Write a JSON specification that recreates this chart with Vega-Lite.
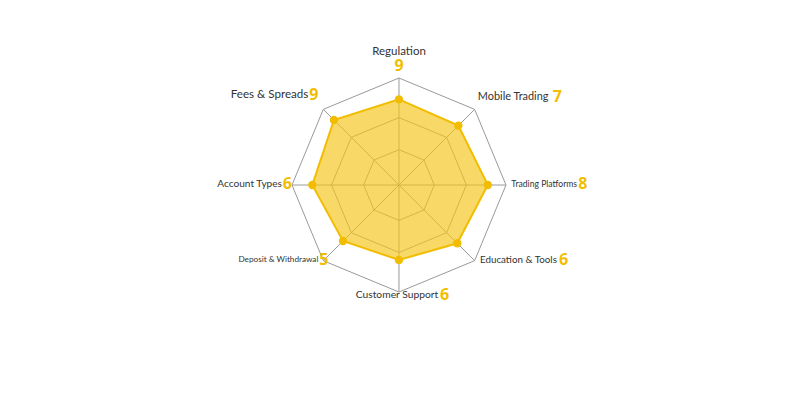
{
  "$schema": "https://vega.github.io/schema/vega-lite/v6.json",
  "width": 800,
  "height": 400,
  "padding": 0,
  "autosize": {"type": "none"},
  "background": "white",
  "config": {"view": {"stroke": null}, "font": "Lato", "text": {"font": "Lato"}},
  "datasets": {
    "axes": [
      {"i": 0, "name": "Regulation", "score": 9, "r": 8.0},
      {"i": 1, "name": "Mobile Trading", "score": 7, "r": 7.85},
      {"i": 2, "name": "Trading Platforms", "score": 8, "r": 8.3},
      {"i": 3, "name": "Education & Tools", "score": 6, "r": 7.7},
      {"i": 4, "name": "Customer Support", "score": 6, "r": 7.0},
      {"i": 5, "name": "Deposit & Withdrawal", "score": 5, "r": 7.4},
      {"i": 6, "name": "Account Types", "score": 6, "r": 8.1},
      {"i": 7, "name": "Fees & Spreads", "score": 9, "r": 8.6}
    ],
    "grid": [
      {"level": 3.3, "i": 0}, {"level": 3.3, "i": 1}, {"level": 3.3, "i": 2}, {"level": 3.3, "i": 3},
      {"level": 3.3, "i": 4}, {"level": 3.3, "i": 5}, {"level": 3.3, "i": 6}, {"level": 3.3, "i": 7},
      {"level": 6.3, "i": 0}, {"level": 6.3, "i": 1}, {"level": 6.3, "i": 2}, {"level": 6.3, "i": 3},
      {"level": 6.3, "i": 4}, {"level": 6.3, "i": 5}, {"level": 6.3, "i": 6}, {"level": 6.3, "i": 7},
      {"level": 10, "i": 0}, {"level": 10, "i": 1}, {"level": 10, "i": 2}, {"level": 10, "i": 3},
      {"level": 10, "i": 4}, {"level": 10, "i": 5}, {"level": 10, "i": 6}, {"level": 10, "i": 7}
    ]
  },
  "encoding": {
    "x": {"field": "x", "type": "quantitative", "scale": {"domain": [-37.29, 37.48], "zero": false, "nice": false}, "axis": null},
    "y": {"field": "y", "type": "quantitative", "scale": {"domain": [-20.09, 17.29], "zero": false, "nice": false}, "axis": null}
  },
  "layer": [
    {
      "data": {"name": "grid"},
      "transform": [
        {"calculate": "datum.i * PI / 4", "as": "a"},
        {"calculate": "datum.level * sin(datum.a)", "as": "x"},
        {"calculate": "datum.level * cos(datum.a)", "as": "y"}
      ],
      "mark": {"type": "line", "interpolate": "linear-closed", "stroke": "#9a9a9a", "strokeWidth": 1},
      "encoding": {"detail": {"field": "level"}, "order": {"field": "i"}}
    },
    {
      "data": {"name": "axes"},
      "transform": [
        {"calculate": "datum.i * PI / 4", "as": "a"},
        {"calculate": "10 * sin(datum.a)", "as": "x"},
        {"calculate": "10 * cos(datum.a)", "as": "y"}
      ],
      "mark": {"type": "rule", "stroke": "#9a9a9a", "strokeWidth": 1},
      "encoding": {"x2": {"datum": 0}, "y2": {"datum": 0}}
    },
    {
      "data": {"name": "axes"},
      "transform": [
        {"calculate": "datum.i * PI / 4", "as": "a"},
        {"calculate": "datum.r * sin(datum.a)", "as": "x"},
        {"calculate": "datum.r * cos(datum.a)", "as": "y"}
      ],
      "mark": {"type": "line", "interpolate": "linear-closed", "fill": "#F5C518", "fillOpacity": 0.66, "stroke": "#F2BD00", "strokeWidth": 2},
      "encoding": {"order": {"field": "i"}}
    },
    {
      "data": {"name": "axes"},
      "transform": [
        {"calculate": "datum.i * PI / 4", "as": "a"},
        {"calculate": "datum.r * sin(datum.a)", "as": "x"},
        {"calculate": "datum.r * cos(datum.a)", "as": "y"}
      ],
      "mark": {"type": "circle", "size": 70, "opacity": 1, "color": "#F2BD00"}
    },
    {
      "data": {"name": "axes"},
      "transform": [
        {"filter": "datum.i === 0"},
        {"calculate": "0", "as": "x"},
        {"calculate": "10", "as": "y"}
      ],
      "layer": [
        {"mark": {"type": "text", "align": "center", "baseline": "middle", "dy": -26, "fontSize": 11.5, "color": "#333333"}, "encoding": {"text": {"field": "name"}}},
        {"mark": {"type": "text", "align": "center", "baseline": "middle", "dy": -12, "fontSize": 16, "fontWeight": 700, "font": "Open Sans", "color": "#F2BD00"}, "encoding": {"text": {"field": "score"}}}
      ]
    },
    {
      "data": {"name": "axes"},
      "transform": [
        {"filter": "datum.i === 4"},
        {"calculate": "0", "as": "x"},
        {"calculate": "-10", "as": "y"}
      ],
      "layer": [
        {"mark": {"type": "text", "align": "center", "baseline": "middle", "dx": -2, "dy": 3, "fontSize": 10.3, "color": "#333333"}, "encoding": {"text": {"field": "name"}}},
        {"mark": {"type": "text", "align": "left", "baseline": "middle", "dx": 41, "dy": 3, "fontSize": 16, "fontWeight": 700, "font": "Open Sans", "color": "#F2BD00"}, "encoding": {"text": {"field": "score"}}}
      ]
    },
    {
      "data": {"name": "axes"},
      "transform": [
        {"filter": "datum.i >= 1 && datum.i <= 3"},
        {"calculate": "datum.i * PI / 4", "as": "a"},
        {"calculate": "10 * sin(datum.a) + (datum.i === 1 ? 0.3 : 0.5)", "as": "x"},
        {"calculate": "10 * cos(datum.a) + (cos(datum.a) > 0.5 ? 1.15 : 0.1)", "as": "y"},
        {"calculate": "datum.x + (datum.name === 'Mobile Trading' ? 75 : datum.name === 'Trading Platforms' ? 67 : 79) / 10.7", "as": "nx"}
      ],
      "layer": [
        {"mark": {"type": "text", "align": "left", "baseline": "middle", "color": "#333333"},
         "encoding": {"text": {"field": "name"}, "size": {"condition": [
           {"test": "datum.name === 'Trading Platforms'", "value": 8.6},
           {"test": "datum.name === 'Education & Tools'", "value": 9.8}
         ], "value": 10.9}}},
        {"mark": {"type": "text", "align": "left", "baseline": "middle", "fontSize": 16, "fontWeight": 700, "font": "Open Sans", "color": "#F2BD00"},
         "encoding": {"x": {"field": "nx", "type": "quantitative"}, "text": {"field": "score"}}}
      ]
    },
    {
      "data": {"name": "axes"},
      "transform": [
        {"filter": "datum.i >= 5"},
        {"calculate": "datum.i * PI / 4", "as": "a"},
        {"calculate": "10 * sin(datum.a) + (cos(datum.a) > 0.5 ? -0.47 : (cos(datum.a) < -0.5 ? 0.47 : 0))", "as": "x"},
        {"calculate": "10 * cos(datum.a) + (cos(datum.a) > 0.5 ? 1.3 : 0.05)", "as": "y"}
      ],
      "layer": [
        {"mark": {"type": "text", "align": "right", "baseline": "middle", "dx": -10, "color": "#333333"},
         "encoding": {"text": {"field": "name"}, "size": {"condition": [
           {"test": "datum.name === 'Deposit & Withdrawal'", "value": 8.2},
           {"test": "datum.name === 'Account Types'", "value": 10.1}
         ], "value": 11.6}}},
        {"mark": {"type": "text", "align": "right", "baseline": "middle", "fontSize": 16, "fontWeight": 700, "font": "Open Sans", "color": "#F2BD00"},
         "encoding": {"text": {"field": "score"}}}
      ]
    }
  ]
}
